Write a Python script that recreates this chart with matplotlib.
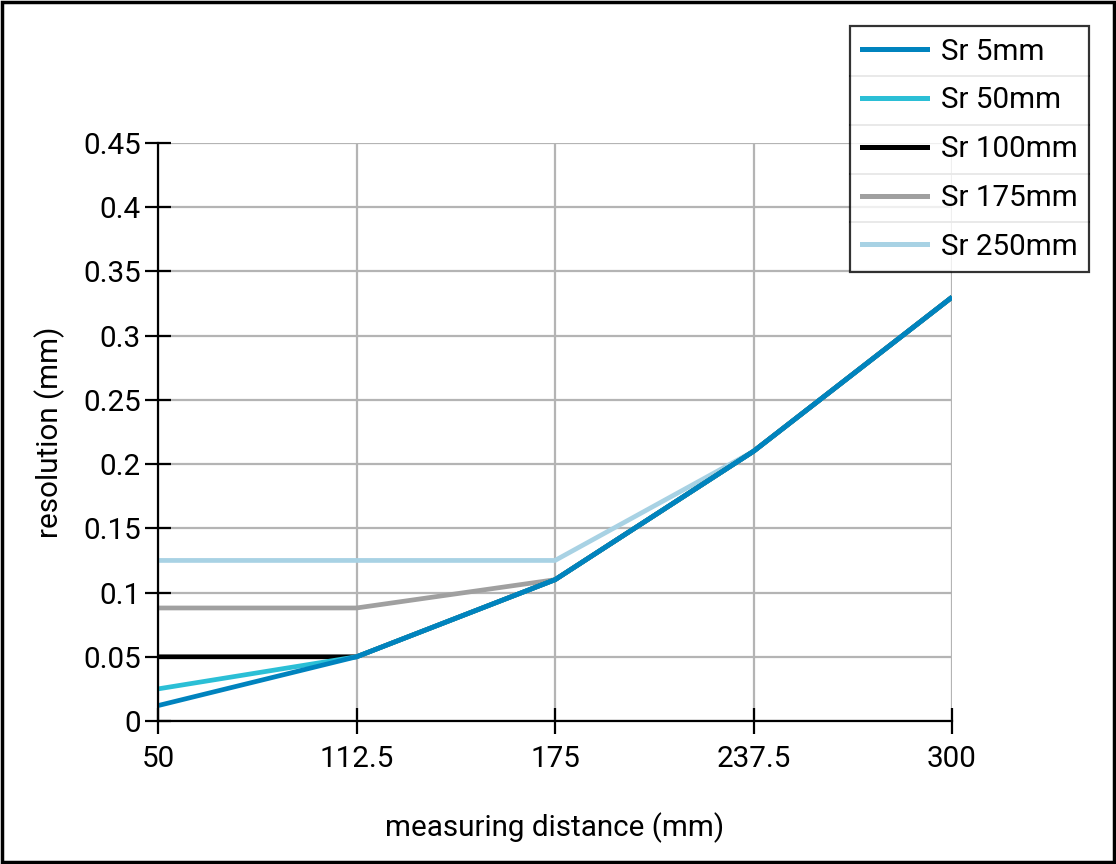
import numpy as np
import matplotlib
matplotlib.use("Agg")
import matplotlib.pyplot as plt
from matplotlib.ticker import FuncFormatter
from matplotlib.lines import Line2D

# data
distance = [50, 112.5, 175, 237.5, 300]
sr_5 = [0.012, 0.05, 0.11, 0.21, 0.33]
sr_50 = [0.025, 0.05, 0.11, 0.21, 0.33]
sr_100 = [0.05, 0.05, 0.11, 0.21, 0.33]
sr_175 = [0.088, 0.088, 0.11, 0.21, 0.33]
sr_250 = [0.125, 0.125, 0.125, 0.21, 0.33]
labels = ["Sr 5mm", "Sr 50mm", "Sr 100mm", "Sr 175mm", "Sr 250mm"]
colors = ["#0083be", "#2bbfd6", "#000000", "#a0a0a0", "#a8d2e4"]
y_ticks = [0, 0.05, 0.1, 0.15, 0.2, 0.25, 0.3, 0.35, 0.4, 0.45]

plt.rcParams['font.family'] = ['Roboto', 'DejaVu Sans']
fs = 21.3

fig = plt.figure(figsize=(11.16, 8.64), dpi=100)
ax = fig.add_axes([0.1416, 0.1655, 0.7115, 0.669])

series = [sr_5, sr_50, sr_100, sr_175, sr_250]
# draw the widest-ranged first so Sr 5mm sits on top
for vals, c in reversed(list(zip(series, colors))):
    ax.plot(distance, vals, color=c, lw=3.4, solid_capstyle='butt', zorder=3)

ax.set_xlim(distance[0], distance[-1])
ax.set_ylim(0, 0.45)
ax.set_xticks(distance)
ax.set_yticks(y_ticks)
ax.xaxis.set_major_formatter(FuncFormatter(lambda v, p: "%g" % v))
ax.yaxis.set_major_formatter(FuncFormatter(lambda v, p: "%g" % v))
ax.grid(True, color="#b4b4b4", lw=1.6)
ax.set_axisbelow(True)
for s in ['top', 'right']:
    ax.spines[s].set_visible(False)
for s in ['left', 'bottom']:
    ax.spines[s].set_linewidth(1.6)
    ax.spines[s].set_zorder(4)
ax.tick_params(direction='inout', length=19, width=1.6, labelsize=fs, pad=3)
ax.tick_params(axis='x', pad=8)
ax.set_xlabel("measuring distance (mm)", fontsize=fs, labelpad=28)
ax.set_ylabel("resolution (mm)", fontsize=fs, labelpad=13)

handles = [Line2D([], [], color=c, lw=3.6) for c in colors]
leg = fig.legend(handles, labels, loc='upper right', bbox_to_anchor=(0.976, 0.97),
                 fontsize=fs, frameon=True, fancybox=False, edgecolor='black',
                 handlelength=2.2, handletextpad=0.45, labelspacing=0.7,
                 borderpad=0.4, borderaxespad=0)
leg.get_frame().set_linewidth(1.6)

# table-style separators between legend rows
fig.canvas.draw()
r = fig.canvas.get_renderer()
box = leg.get_window_extent(r)
W, H = fig.bbox.width, fig.bbox.height
texts = leg.get_texts()
for t1, t2 in zip(texts[:-1], texts[1:]):
    b1 = t1.get_window_extent(r)
    b2 = t2.get_window_extent(r)
    ymid = (b1.y0 + b2.y1) / 2 / H
    fig.add_artist(Line2D([box.x0 / W, box.x1 / W], [ymid, ymid],
                          color="#909090", lw=1.4, transform=fig.transFigure))

# outer frame
fig.add_artist(plt.Rectangle((0.002, 0.002), 0.996, 0.996, fill=False,
                             edgecolor='black', lw=2.5, transform=fig.transFigure))

fig.savefig("out.png", dpi=100)
